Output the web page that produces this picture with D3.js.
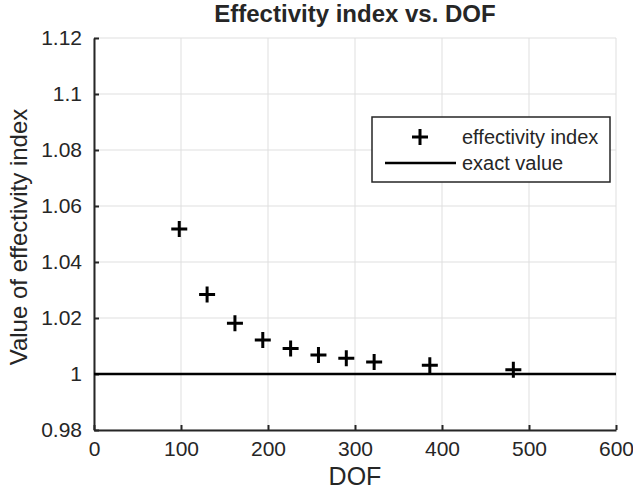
<!DOCTYPE html>
<html lang="en">
<head>
<meta charset="utf-8">
<title>Effectivity index vs. DOF</title>
<script src="https://cdn.jsdelivr.net/npm/d3@7"></script>
<style>
  body { margin: 0; background: #fff; }
  text { font-family: "Liberation Sans", Arial, Helvetica, sans-serif; fill: #262626; }
</style>
</head>
<body>
<script>
// data
var dof = [98, 130, 162, 194, 226, 258, 290, 322, 386, 482];
var effIndex = [1.0518, 1.0284, 1.0181, 1.0121, 1.0091, 1.0068, 1.0056, 1.0043, 1.0031, 1.0015];
var exactX = [0, 600];
var exactY = [1, 1];
var xTicks = [0, 100, 200, 300, 400, 500, 600];
var yTicks = [0.98, 1, 1.02, 1.04, 1.06, 1.08, 1.1, 1.12];
var legendLabels = ["effectivity index", "exact value"];

var W = 633, H = 503;
var margin = {left: 94, right: 17, top: 38, bottom: 73};
var iw = W - margin.left - margin.right;
var ih = H - margin.top - margin.bottom;

var svg = d3.select("body").append("svg")
    .attr("width", W).attr("height", H);

var x = d3.scaleLinear().domain([0, 600]).range([0, iw]);
var y = d3.scaleLinear().domain([0.98, 1.12]).range([ih, 0]);

var g = svg.append("g").attr("transform", "translate(" + margin.left + "," + margin.top + ")");

// grid
g.selectAll(".gx").data(xTicks).enter().append("line")
    .attr("x1", d => x(d)).attr("x2", d => x(d))
    .attr("y1", 0).attr("y2", ih)
    .attr("stroke", "#dfdfdf").attr("stroke-width", 1);
g.selectAll(".gy").data(yTicks).enter().append("line")
    .attr("x1", 0).attr("x2", iw)
    .attr("y1", d => y(d)).attr("y2", d => y(d))
    .attr("stroke", "#dfdfdf").attr("stroke-width", 1);

// axes (ticks pointing inwards, like matlab)
var xAxis = g.append("g").attr("transform", "translate(0," + ih + ")")
    .call(d3.axisBottom(x).tickValues(xTicks).tickSizeInner(-5).tickSizeOuter(0).tickPadding(11));
var yAxis = g.append("g")
    .call(d3.axisLeft(y).tickValues(yTicks).tickSizeInner(-5).tickSizeOuter(0).tickPadding(12)
        .tickFormat(d3.format("~g")));
[xAxis, yAxis].forEach(function(a) {
  a.select(".domain").attr("stroke", "#262626").attr("stroke-width", 2);
  a.selectAll(".tick line").attr("stroke", "#262626").attr("stroke-width", 2);
  a.selectAll(".tick text").style("font-size", "21px").attr("fill", "#262626")
      .attr("font-family", null);
});

// exact value line
var line = d3.line().x(d => x(d[0])).y(d => y(d[1]));
g.append("path")
    .datum(d3.zip(exactX, exactY))
    .attr("d", line)
    .attr("fill", "none").attr("stroke", "#000").attr("stroke-width", 2.5);

// '+' markers
var s = 8;
function plus(cx, cy) {
  return "M" + (cx - s) + "," + cy + "h" + (2 * s) + "M" + cx + "," + (cy - s) + "v" + (2 * s);
}
g.selectAll(".pt").data(d3.zip(dof, effIndex)).enter().append("path")
    .attr("d", d => plus(x(d[0]), y(d[1])))
    .attr("stroke", "#000").attr("stroke-width", 3);

// titles
svg.append("text").attr("x", margin.left + iw / 2).attr("y", 22)
    .attr("text-anchor", "middle").style("font-size", "24px").style("font-weight", "bold")
    .attr("fill", "#000")
    .text("Effectivity index vs. DOF");
svg.append("text").attr("x", margin.left + iw / 2).attr("y", 485)
    .attr("text-anchor", "middle").style("font-size", "25px")
    .text("DOF");
svg.append("text").attr("transform", "translate(27,237) rotate(-90)")
    .attr("text-anchor", "middle").style("font-size", "24px")
    .text("Value of effectivity index");

// legend
var lg = svg.append("g").attr("transform", "translate(372,117)");
lg.append("rect").attr("width", 238).attr("height", 65)
    .attr("fill", "#fff").attr("stroke", "#262626").attr("stroke-width", 1.5);
lg.append("path")
    .attr("d", plus(48, 20))
    .attr("stroke", "#000").attr("stroke-width", 3);
lg.append("line").attr("x1", 13).attr("x2", 84).attr("y1", 46).attr("y2", 46)
    .attr("stroke", "#000").attr("stroke-width", 2.5);
lg.selectAll(".lt").data(legendLabels).enter().append("text")
    .attr("x", 90).attr("y", (d, i) => 27 + i * 26)
    .style("font-size", "20px").attr("fill", "#000")
    .text(d => d);
</script>
</body>
</html>
